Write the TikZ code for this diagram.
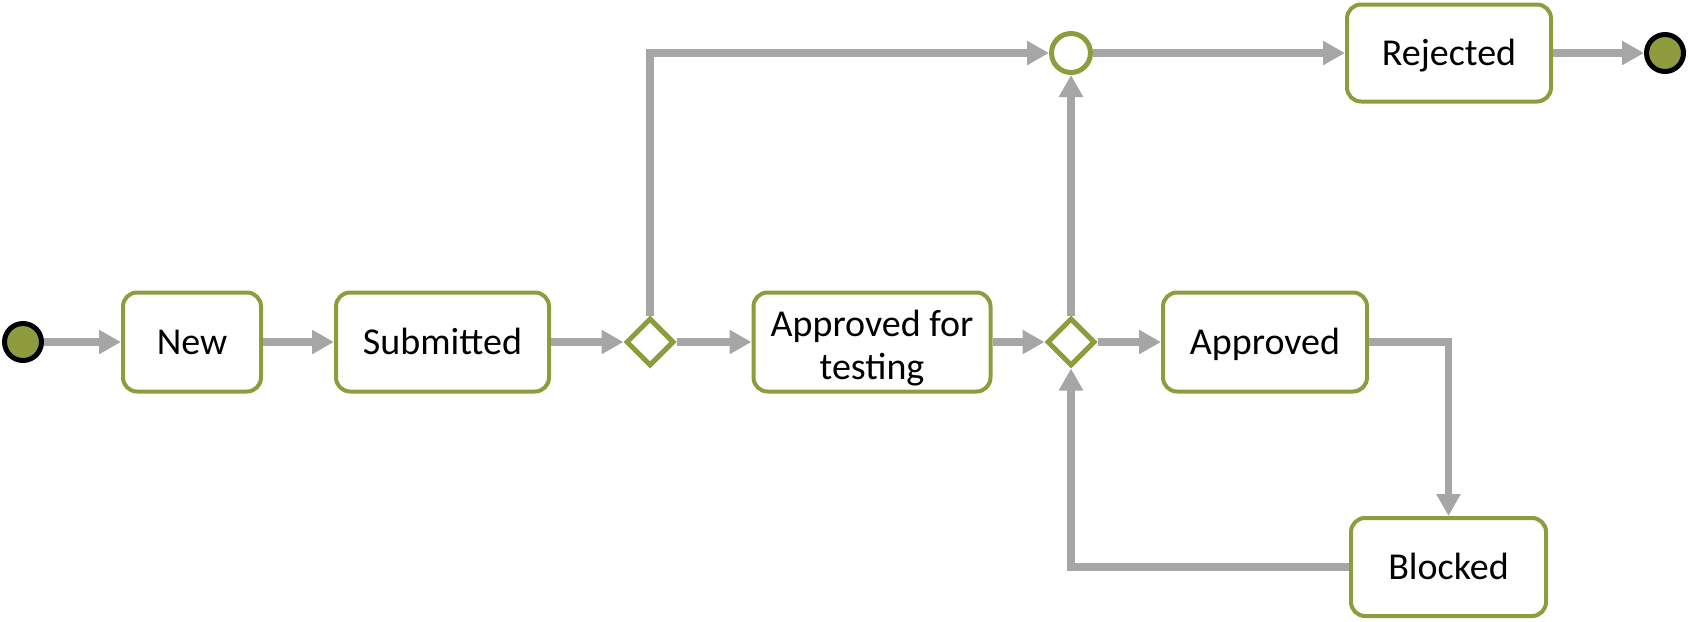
\documentclass[tikz,border=0pt]{standalone}
\usepackage{fontspec}
\setmainfont{Carlito}
\usetikzlibrary{arrows.meta,shapes.geometric}
\definecolor{olive}{RGB}{143,156,62}
\definecolor{conn}{RGB}{166,166,166}
\tikzset{
  state/.style={draw=olive, line width=4pt, fill=white, rounded corners=14pt,
    minimum height=99pt, inner sep=0pt, align=center,
    text height=24pt, text depth=0pt,
    font=\fontsize{38}{43}\selectfont},
  gate/.style={draw=olive, line width=5pt, fill=white, diamond, aspect=1,
    minimum size=48pt, inner sep=0pt},
  merge/.style={draw=olive, line width=5pt, fill=white, circle,
    minimum size=39pt, inner sep=0pt},
  terminal/.style={draw=black, line width=5pt, fill=olive, circle,
    minimum size=37pt, inner sep=0pt},
  flow/.style={draw=conn, line width=7.5pt,
    -{Triangle[length=22pt,width=23pt]}}
}
\begin{document}
\begin{tikzpicture}[x=1pt,y=-1pt]
\useasboundingbox (0,0) rectangle (1689,621);
\node[terminal] (start) at (23,342) {};
\node[state, minimum width=138pt] (new) at (192,342) {New};
\node[state, minimum width=213pt] (sub) at (442.5,342) {Submitted};
\node[gate] (d1) at (650,342) {};
\node[state, minimum width=237pt, text height=, text depth=] (aft) at (872,342)
  {\raisebox{-7pt}[\height][\depth]{\begin{tabular}{@{}c@{}}Approved for\\testing\end{tabular}}};
\node[gate] (d2) at (1071,342) {};
\node[state, minimum width=204pt] (app) at (1265,342) {Approved};
\node[merge] (mg) at (1071,53) {};
\node[state, minimum width=204pt, minimum height=97pt] (rej) at (1449,53) {Rejected};
\node[terminal] (end) at (1665,53) {};
\node[state, minimum width=195pt, minimum height=98pt] (blk) at (1448.5,567) {Blocked};

\draw[flow] (start) -- (new);
\draw[flow] (new) -- (sub);
\draw[flow] (sub) -- (d1);
\draw[flow] (d1) -- (aft);
\draw[flow] (aft) -- (d2);
\draw[flow] (d2) -- (app);
\draw[flow] (d1.north) |- (mg.west);
\draw[flow] (d2.north) -- (mg.south);
\draw[flow] (mg) -- (rej);
\draw[flow] (rej) -- (end);
\draw[flow] (app.east) -| (blk.north);
\draw[flow] (blk.west) -| (d2.south);
\end{tikzpicture}
\end{document}
